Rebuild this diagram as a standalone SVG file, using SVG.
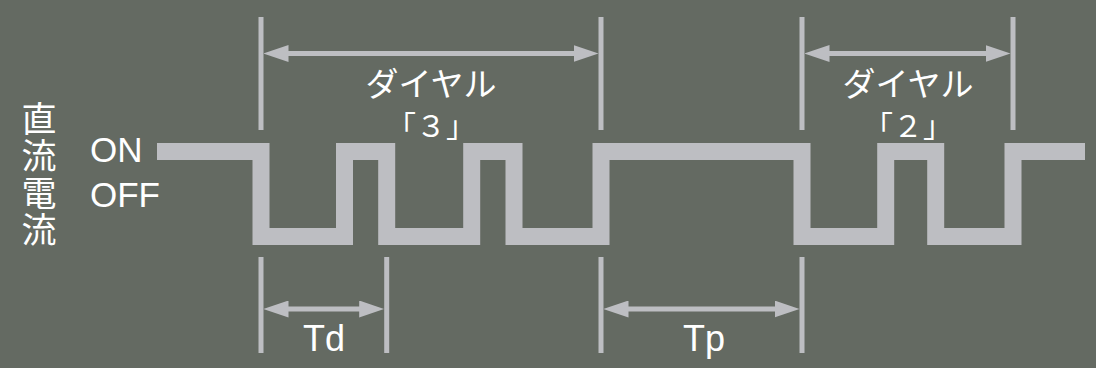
<svg xmlns="http://www.w3.org/2000/svg" width="1096" height="368" viewBox="0 0 1096 368">
<defs>
<style>
.txt{fill:#ffffff;font-family:"Liberation Sans","Noto Sans CJK JP",sans-serif;}
.jp{fill:#ffffff;font-family:"Noto Sans CJK JP","Liberation Sans",sans-serif;}
.tick{stroke:#bdbec2;stroke-width:5;fill:none;}
.dim{stroke:#bdbec2;stroke-width:5;fill:none;marker-start:url(#ah);marker-end:url(#ah);}
.wave{stroke:#bdbec2;stroke-width:17;fill:none;stroke-linejoin:miter;stroke-linecap:butt;}
</style>
<marker id="ah" viewBox="0 0 25 17" refX="5" refY="8.5" markerWidth="25" markerHeight="17" markerUnits="userSpaceOnUse" orient="auto-start-reverse">
<path d="M0,0 L25,8.5 L0,17 Z" fill="#bdbec2"/>
</marker>
</defs>
<rect x="0" y="0" width="1096" height="368" fill="#646a62"/>
<g id="label-dc">
<text class="jp" x="39" y="101" font-size="35" writing-mode="vertical-rl" letter-spacing="2">直流電流</text>
</g>
<g id="label-on"><text class="txt" x="90" y="162" font-size="35">ON</text></g>
<g id="label-off"><text class="txt" x="90" y="207" font-size="35">OFF</text></g>
<g id="waveform">
<path class="wave" d="M157,151.5 H261 V236.5 H344.5 V151.5 H386.7 V236.5 H471.7 V151.5 H514 V236.5 H601 V151.5 H802 V236.5 H885.7 V151.5 H935.7 V236.5 H1013 V151.5 H1085"/>
</g>
<g id="ticks">
<line class="tick" x1="261" y1="17" x2="261" y2="130"/>
<line class="tick" x1="601" y1="17" x2="601" y2="130"/>
<line class="tick" x1="802" y1="17" x2="802" y2="130"/>
<line class="tick" x1="1013" y1="17" x2="1013" y2="130"/>
<line class="tick" x1="261" y1="257" x2="261" y2="353"/>
<line class="tick" x1="386.7" y1="257" x2="386.7" y2="353"/>
<line class="tick" x1="601" y1="257" x2="601" y2="353"/>
<line class="tick" x1="802" y1="257" x2="802" y2="353"/>
</g>
<g id="connectors">
<line class="dim" x1="283.5" y1="53.5" x2="578.5" y2="53.5"/>
<line class="dim" x1="824.5" y1="53.5" x2="990.5" y2="53.5"/>
<line class="dim" x1="283.5" y1="309" x2="364.2" y2="309"/>
<line class="dim" x1="623.5" y1="309" x2="779.5" y2="309"/>
</g>
<g id="dial3" class="jp" text-anchor="middle">
<text x="431" y="96" font-size="33">ダイヤル</text>
<text x="431" y="137" font-size="30">「３」</text>
</g>
<g id="dial2" class="jp" text-anchor="middle">
<text x="908" y="96" font-size="33">ダイヤル</text>
<text x="908" y="137" font-size="30">「２」</text>
</g>
<g id="label-td"><text class="txt" x="324" y="351" font-size="36" text-anchor="middle">Td</text></g>
<g id="label-tp"><text class="txt" x="704" y="351" font-size="36" text-anchor="middle">Tp</text></g>
</svg>
